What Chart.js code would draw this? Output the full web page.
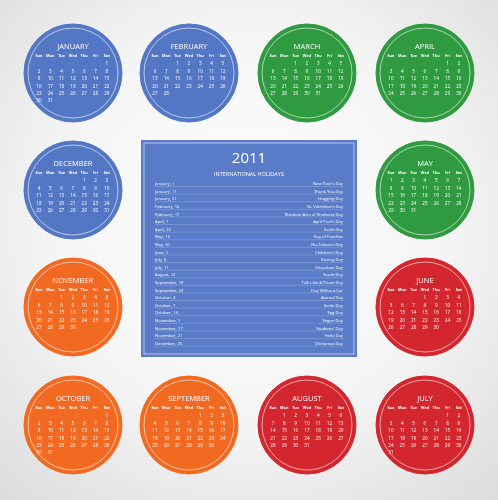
<!DOCTYPE html>
<html><head><meta charset="utf-8">
<script src="https://cdn.jsdelivr.net/npm/chart.js@4"></script>
<style>
html,body{margin:0;padding:0;}
body{width:498px;height:500px;background:radial-gradient(circle at 50% 45%,#ffffff 0%,#f4f4f4 55%,#dcdcdc 100%);}
#wrap{width:498px;height:500px;position:relative;}
</style></head>
<body><div id="wrap"><canvas id="cal"></canvas></div>
<script>
const year = 2011;
const monthNames = ["JANUARY","FEBRUARY","MARCH","APRIL","MAY","JUNE","JULY","AUGUST","SEPTEMBER","OCTOBER","NOVEMBER","DECEMBER"];
const monthX = [73, 189, 307, 425, 425, 425, 425, 307, 189, 73, 73, 73];
const monthY = [73, 73, 73, 73, 190, 307, 425, 425, 425, 425, 307, 190];
const monthColors = ["#5477c5","#5477c5","#2f9a40","#2f9a40","#2f9a40","#d4262e","#d4262e","#d4262e","#f26a22","#f26a22","#f26a22","#5477c5"];
const dayNames = ["Sun","Mon","Tue","Wed","Thu","Fri","Sat"];
const holidayDates = ["January, 1","January, 11","January, 21","February, 14","February, 17","April, 1","April, 22","May, 15","May, 31","June, 1","July, 6","July, 11","August, 12","September, 19","September, 22","October, 4","October, 7","October, 14","November, 1","November, 17","November, 21","December, 25"];
const holidayNames = ["New Year's Day","Thank You Day","Hugging Day","St. Valentine's Day","Random Acts of Kindness Day","April Fool's Day","Earth Day","Day of Families","No-Tobacco Day","Children's Day","Kissing Day","Chocolate Day","Youth Day","Talk Like A Pirate Day","Day Without Car","Animal Day","Smile Day","Egg Day","Vegan Day","Students' Day","Hello Day","Christmas Day"];

const FONT = "'Open Sans', 'DejaVu Sans', sans-serif";

const calendarPlugin = {
    id: "calendarText",
    beforeDatasetsDraw(chart) {
        const ctx = chart.ctx;
        const sx = chart.scales.x, sy = chart.scales.y;
        // holiday panel
        const l = sx.getPixelForValue(141), r = sx.getPixelForValue(357);
        const t = sy.getPixelForValue(140), b = sy.getPixelForValue(357);
        ctx.save();
        ctx.fillStyle = "#5a7cc8";
        ctx.fillRect(l, t, r - l, b - t);
        ctx.strokeStyle = "rgba(255,255,255,0.8)";
        ctx.lineWidth = 0.7;
        ctx.strokeRect(l + 3, t + 3, r - l - 6, b - t - 6);
        ctx.fillStyle = "#fff";
        ctx.textAlign = "center";
        ctx.textBaseline = "middle";
        ctx.font = "15px " + FONT;
        ctx.fillText(String(year), (l + r) / 2, t + 19);
        ctx.font = "5.5px " + FONT;
        ctx.fillText("INTERNATIONAL HOLIDAYS", (l + r) / 2, t + 34);
        ctx.font = "4.2px " + FONT;
        holidayDates.forEach((d, i) => {
            const yy = t + 44 + i * 7.6;
            ctx.textAlign = "left";
            ctx.fillStyle = "#fff";
            ctx.fillText(d, l + 14, yy);
            ctx.textAlign = "right";
            ctx.fillText(holidayNames[i], r - 14, yy);
            ctx.strokeStyle = "rgba(255,255,255,0.35)";
            ctx.lineWidth = 0.5;
            ctx.beginPath();
            ctx.moveTo(l + 14, yy + 2.5);
            ctx.lineTo(r - 14, yy + 2.5);
            ctx.stroke();
        });
        ctx.restore();
    },
    afterDatasetsDraw(chart) {
        const ctx = chart.ctx;
        const sx = chart.scales.x, sy = chart.scales.y;
        ctx.save();
        ctx.fillStyle = "#fff";
        ctx.textAlign = "center";
        ctx.textBaseline = "middle";
        monthNames.forEach((name, m) => {
            const cx = sx.getPixelForValue(monthX[m]);
            const cy = sy.getPixelForValue(monthY[m]);
            ctx.strokeStyle = "rgba(255,255,255,0.85)";
            ctx.lineWidth = 0.7;
            ctx.beginPath();
            ctx.arc(cx, cy, 45, 0, Math.PI * 2);
            ctx.stroke();
            ctx.font = "7.5px " + FONT;
            ctx.fillText(name, cx, cy - 26);
            ctx.font = "bold 3.8px " + FONT;
            dayNames.forEach((d, j) => ctx.fillText(d, cx - 34 + j * 11.3, cy - 17));
            ctx.font = "4.6px " + FONT;
            const first = new Date(year, m, 1).getDay();
            const days = new Date(year, m + 1, 0).getDate();
            for (let d = 1; d <= days; d++) {
                const pos = first + d - 1;
                const col = pos % 7, row = Math.floor(pos / 7);
                ctx.fillText(String(d), cx - 34 + col * 11.3, cy - 9 + row * 7.4);
            }
        });
        ctx.restore();
    }
};

new Chart(document.getElementById("cal").getContext("2d"), {
    type: "scatter",
    data: {
        datasets: [{
            data: monthX.map((x, i) => ({ x: x, y: monthY[i] })),
            backgroundColor: monthColors,
            borderColor: monthColors,
            pointRadius: 49,
            pointHoverRadius: 49,
            clip: false,
        }],
    },
    options: {
        responsive: true,
        maintainAspectRatio: false,
        animation: false,
        events: [],
        layout: { padding: 0, autoPadding: false },
        scales: {
            x: { type: "linear", min: 0, max: 498, display: false },
            y: { type: "linear", min: 0, max: 500, reverse: true, display: false },
        },
        plugins: { legend: { display: false }, tooltip: { enabled: false } },
    },
    plugins: [calendarPlugin],
});
</script></body></html>
